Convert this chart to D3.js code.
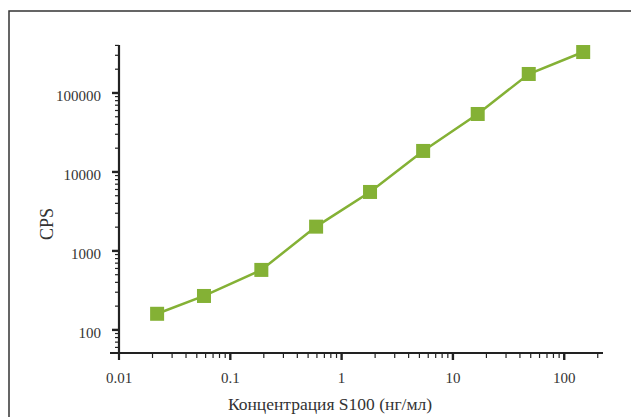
<!DOCTYPE html>
<html><head><meta charset="utf-8">
<script src="https://cdn.jsdelivr.net/npm/d3@7"></script>
<style>body{margin:0;background:#fff}svg{display:block}</style>
</head><body>
<script>
const concentrations = [0.022, 0.058, 0.19, 0.59, 1.8, 5.4, 16.7, 48, 148];
const cps = [160, 269, 575, 2030, 5580, 18450, 54200, 174000, 330000];
const xTickLabels = ["0.01", "0.1", "1", "10", "100"];
const yTickLabels = ["100", "1000", "10000", "100000"];
const xTitle = "Концентрация S100 (нг/мл)";
const yTitle = "CPS";

const W = 631, H = 417;
const svg = d3.select("body").append("svg").attr("width", W).attr("height", H);
const font = "'Liberation Serif', 'Times New Roman', serif";

svg.append("rect").attr("x", 9).attr("y", 11).attr("width", 640).attr("height", 420)
  .attr("fill", "none").attr("stroke", "#333").attr("stroke-width", 1.5);

const x0 = 119, y0 = 353;
const x = d3.scaleLog().domain([0.01, 223]).range([x0, 603]);
const y = d3.scaleLog().domain([51, 405000]).range([y0, 45]);

const axisColor = "#222";
svg.append("line").attr("x1", 110).attr("x2", 603).attr("y1", y0).attr("y2", y0)
  .attr("stroke", axisColor).attr("stroke-width", 2.2);
svg.append("line").attr("x1", x0).attr("x2", x0).attr("y1", 45).attr("y2", 360)
  .attr("stroke", axisColor).attr("stroke-width", 2.2);

const majorX = xTickLabels.map(Number), majorY = yTickLabels.map(Number);
const xt = x.ticks().filter(v => v >= 0.01 && v <= 223);
const yt = y.ticks().filter(v => v >= 51 && v <= 405000);
const isMajor = (v, arr) => arr.some(m => Math.abs(m - v) / m < 1e-6);

const gx = svg.append("g");
xt.forEach(v => {
  const mj = isMajor(v, majorX);
  if (Math.abs(v - 0.01) < 1e-9) return;
  gx.append("line").attr("x1", x(v)).attr("x2", x(v)).attr("y1", y0).attr("y2", y0 + (mj ? 7 : 5))
    .attr("stroke", axisColor).attr("stroke-width", mj ? 2.4 : 1.2);
});
xTickLabels.forEach(t => {
  gx.append("text").attr("x", x(+t)).attr("y", y0 + 30).attr("text-anchor", "middle")
    .attr("font-family", font).attr("font-size", 15).attr("fill", "#333").text(t);
});
const gy = svg.append("g");
yt.forEach(v => {
  const mj = isMajor(v, majorY);
  gy.append("line").attr("x1", x0 - (mj ? 7 : 4)).attr("x2", x0).attr("y1", y(v)).attr("y2", y(v))
    .attr("stroke", axisColor).attr("stroke-width", mj ? 2.4 : 1.2);
});
yTickLabels.forEach(t => {
  gy.append("text").attr("x", 101).attr("y", y(+t) + 8).attr("text-anchor", "end")
    .attr("font-family", font).attr("font-size", 15).attr("fill", "#333").text(t);
});

svg.append("text").attr("x", 330).attr("y", 410).attr("text-anchor", "middle")
  .attr("font-family", font).attr("font-size", 17.5).attr("fill", "#333").text(xTitle);
svg.append("text").attr("transform", "translate(53,224) rotate(-90)").attr("text-anchor", "middle")
  .attr("font-family", font).attr("font-size", 18).attr("fill", "#333").text(yTitle);

const green = "#84b135";
const pts = concentrations.map((c, i) => [c, cps[i]]);
svg.append("path").datum(pts)
  .attr("d", d3.line().x(d => x(d[0])).y(d => y(d[1])))
  .attr("fill", "none").attr("stroke", green).attr("stroke-width", 2.5);
const s = 14;
svg.selectAll("rect.m").data(pts).enter().append("rect").attr("class", "m")
  .attr("x", d => x(d[0]) - s / 2).attr("y", d => y(d[1]) - s / 2)
  .attr("width", s).attr("height", s).attr("fill", green);
</script>
</body></html>
